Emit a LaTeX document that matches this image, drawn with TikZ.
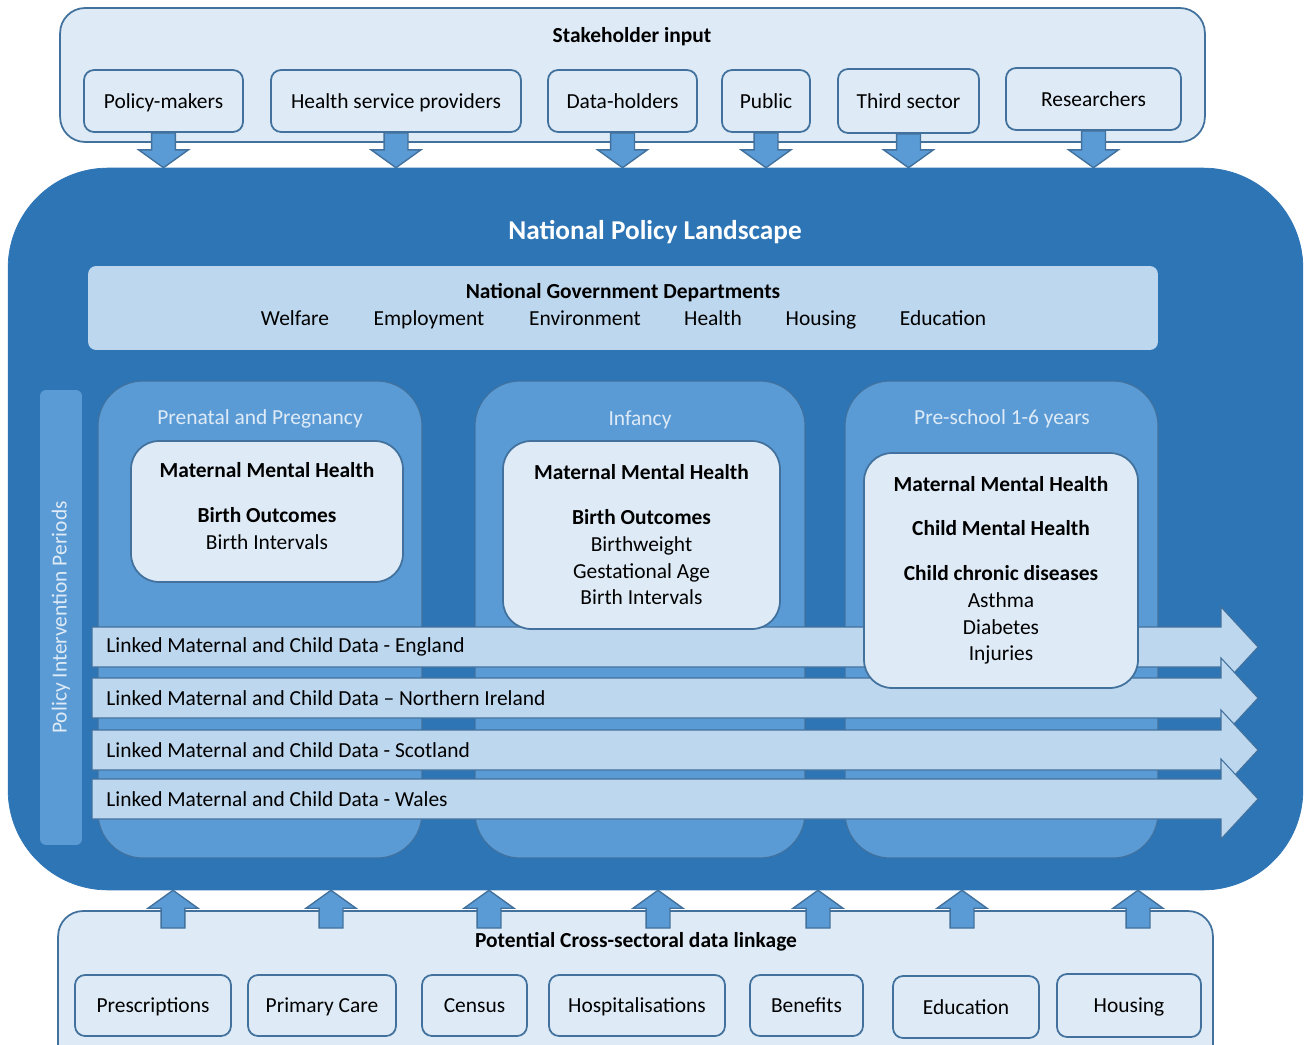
\documentclass[tikz,border=0pt]{standalone}
\usepackage{fontspec}
\setmainfont{Carlito}
\usepackage{tikz}
\usetikzlibrary{positioning,calc}
\definecolor{npdark}{HTML}{2E75B6}
\definecolor{npmid}{HTML}{5B9BD5}
\definecolor{nplight}{HTML}{BDD7EE}
\definecolor{nppale}{HTML}{DEEBF7}
\definecolor{npedge}{HTML}{41719C}
% block arrow from #1 to the tip #2, head length #3 (signed)
\newcommand{\blockarrow}[3]{%
	\draw[blk] let \p1=#1, \p2=#2 in
	(\x1-6.8pt,\y1) -- (\x1-6.8pt,\y2+#3) -- (\x1-14.2pt,\y2+#3) -- (\x1,\y2)
	-- (\x1+14.2pt,\y2+#3) -- (\x1+6.8pt,\y2+#3) -- (\x1+6.8pt,\y1) -- cycle;}
% wide arrow for one linked data set
\newcommand{\dataarrow}[3]{%
	\draw[datarrow] (92,#2-20) -- (1221,#2-20) -- (1221,#2-40) -- (1258,#2)
	-- (1221,#2+40) -- (1221,#2+20) -- (92,#2+20) -- cycle;
	\node[anchor=west, inner sep=0pt] (#1) at (106,#2) {#3};}

\begin{document}
\begin{tikzpicture}[
			x=0.02cm, y=-0.02cm,
			font=\fontsize{12.2}{15.3}\selectfont,
			bold/.style={font=\fontsize{12.2}{15.3}\selectfont\bfseries},
			panel/.style={draw=npedge, fill=nppale, line width=1pt, rounded corners=0.5cm},
			srcbox/.style={draw=npedge, fill=nppale, line width=1pt, rounded corners=0.2cm, minimum height=1.24cm, text height=2.2ex, text depth=0.45ex},
			land/.style={draw=npdark, fill=npdark, rounded corners=2cm},
			dept/.style={fill=nplight, rounded corners=0.16cm},
			item/.style={anchor=base},
			period/.style={draw=npedge, fill=npmid, line width=0.6pt, rounded corners=0.9cm},
			plabel/.style={text=nppale},
			outcome/.style={draw=npedge, fill=nppale, line width=1pt, rounded corners=0.56cm, align=center},
			blk/.style={draw=npedge, fill=npmid, line width=0.8pt},
			datarrow/.style={draw=npedge, fill=nplight, line width=0.6pt}
		]
		\useasboundingbox (0,0) rectangle (1307,1044);

		% stakeholders
		\node[panel, minimum width=22.9cm, minimum height=2.68cm] (stake) at (632.5,75) {};
		\node[bold] (staket) at (632,37) {Stakeholder input};
		\node[srcbox, minimum width=3.18cm] (pm)  at (163.5,101) {Policy-makers};
		\node[srcbox, minimum width=5.0cm]  (hsp) at (396,101)   {Health service providers};
		\node[srcbox, minimum width=2.98cm] (dh)  at (622.5,101) {Data-holders};
		\node[srcbox, minimum width=1.76cm] (pub) at (766,101)   {Public};
		\node[srcbox, minimum width=2.82cm, minimum height=1.28cm] (ts) at (908.5,101) {Third sector};
		\node[srcbox, minimum width=3.5cm]  (res) at (1093.5,99) {Researchers};

		% data linkage panel
		\node[panel, minimum width=23.1cm, minimum height=3.18cm] (link) at (635.5,990.5) {};

		% national landscape
		\node[land, minimum width=25.9cm, minimum height=14.44cm] (land) at (655.5,529) {};
		\node[text=white, font=\fontsize{15.5}{18}\selectfont\bfseries] (landt) at (655,232) {National Policy Landscape};

		\foreach \s in {pm,hsp,dh,pub,ts,res}
			\blockarrow{(\s.south)}{(\s.south |- land.north)}{10.2pt};

		\node[dept, minimum width=21.4cm, minimum height=1.68cm] (gov) at (623,308) {};
		\node[bold] (govt) at (623,293) {National Government Departments};
		\node[item] (welf) at (295,325) {Welfare};
		\node[item] (empl) at (429,325) {Employment};
		\node[item] (envi) at (585,325) {Environment};
		\node[item] (hlth) at (713,325) {Health};
		\node[item] (hous) at (821,325) {Housing};
		\node[item] (educ) at (943,325) {Education};

		\node[fill=npmid, rounded corners=0.12cm, rotate=90, minimum width=9.1cm, minimum height=0.84cm, text=nppale] (pip) at (61,617.5) {Policy Intervention Periods};

		% periods
		\node[period, minimum width=6.48cm, minimum height=9.54cm] (pre) at (260,619.5) {};
		\node[period, minimum width=6.6cm, minimum height=9.54cm]  (inf) at (640,619.5) {};
		\node[period, minimum width=6.26cm, minimum height=9.54cm] (psc) at (1001.5,619.5) {};
		\node[plabel] (prel) at (260,419) {Prenatal and Pregnancy};
		\node[plabel] (infl) at (640,420) {Infancy};
		\node[plabel] (pscl) at (1002,419) {Pre-school 1-6 years};

		% linked data sets
		\dataarrow{eng}{647}{Linked Maternal and Child Data - England}
		\dataarrow{nir}{698}{Linked Maternal and Child Data -- Northern Ireland}
		\dataarrow{sco}{750}{Linked Maternal and Child Data - Scotland}
		\dataarrow{wal}{799}{Linked Maternal and Child Data - Wales}

		% outcomes
		\node[outcome, minimum width=5.44cm, minimum height=2.82cm] (oa) at (267,511.5)
			{\textbf{Maternal Mental Health}\\[10pt]\textbf{Birth Outcomes}\\Birth Intervals\\[-9pt]\mbox{}};
		\node[outcome, minimum width=5.54cm, minimum height=3.76cm] (ob) at (641.5,535)
			{\textbf{Maternal Mental Health}\\[10pt]\textbf{Birth Outcomes}\\Birthweight\\Gestational Age\\Birth Intervals};
		\node[outcome, minimum width=5.48cm, minimum height=4.7cm] (oc) at (1001,570.5)
			{\textbf{Maternal Mental Health}\\[10pt]\textbf{Child Mental Health}\\[10pt]\textbf{Child chronic diseases}\\Asthma\\Diabetes\\Injuries};

		% data sources
		\node[bold] (linkt) at (636,942) {Potential Cross-sectoral data linkage};
		\node[srcbox, minimum width=3.12cm, minimum height=1.22cm] (presc) at (153,1005.5)  {Prescriptions};
		\node[srcbox, minimum width=2.96cm, minimum height=1.22cm] (prim)  at (322,1005.5)  {Primary Care};
		\node[srcbox, minimum width=2.1cm, minimum height=1.22cm]  (cens)  at (474.5,1005.5) {Census};
		\node[srcbox, minimum width=3.52cm, minimum height=1.22cm] (hosp)  at (637,1005.5)  {Hospitalisations};
		\node[srcbox, minimum width=2.26cm, minimum height=1.22cm] (bene)  at (806.5,1005.5) {Benefits};
		\node[srcbox, minimum width=2.92cm, minimum height=1.24cm] (sedu)  at (966,1007)    {Education};
		\node[srcbox, minimum width=2.88cm, minimum height=1.26cm] (shou)  at (1129,1005.5) {Housing};

		\foreach \k/\xx in {1/173,2/331,3/489,4/658,5/818,6/962,7/1138} {
			\coordinate (up\k) at (\xx,928);
			\blockarrow{(up\k)}{(up\k |- land.south)}{-10.2pt};
		}
		\end{tikzpicture}
\end{document}
